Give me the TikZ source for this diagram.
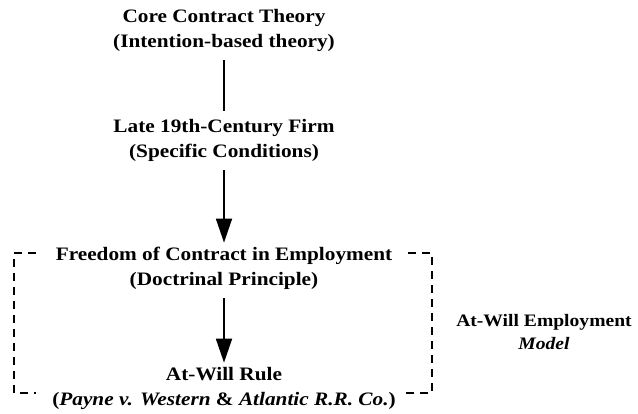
\documentclass[tikz,border=0pt]{standalone}
\usepackage{fontspec}
\setmainfont{Liberation Serif}[FakeStretch=1.12]
\usetikzlibrary{arrows.meta}
\begin{document}
\begin{tikzpicture}[x=1pt,y=-1pt,
  lbl/.style={font=\fontsize{19}{25}\selectfont\bfseries, align=center, inner sep=0pt},
  conn/.style={line width=1.8pt},
  arr/.style={conn,-{Triangle[length=24pt,width=16pt]}},
  brk/.style={line width=1.8pt, dash pattern=on 8pt off 6pt}]
\useasboundingbox (0,0) rectangle (638,414);
\node[lbl] (core) at (224,30) {Core Contract Theory\\(Intention-based theory)};
\node[lbl] (firm) at (224,140) {Late 19th-Century Firm\\(Specific Conditions)};
\node[lbl] (free) at (224,268) {Freedom of Contract in Employment\\(Doctrinal Principle)};
\node[lbl] (rule) at (224,388) {At-Will Rule\\(\textit{Payne v. Western} \& \textit{Atlantic R.R. Co.})};
\node[lbl, font=\fontsize{17.5}{23}\selectfont\bfseries] (model) at (544,332) {At-Will Employment\\\textit{Model}};
\draw[conn] ([yshift=-9pt]core.south) -- ([yshift=8pt]firm.north);
\draw[arr] ([yshift=-9pt]firm.south) -- ([yshift=4pt]free.north);
\draw[arr] ([yshift=-9pt]free.south) -- ([yshift=4pt]rule.north);
\coordinate (tl) at (14,253);
\coordinate (bl) at (14,393);
\coordinate (tr) at (432,253);
\coordinate (br) at (432,393);
\draw[brk] (36,253) -- (tl) -- (bl) -- (36,393);
\draw[brk] (408,253) -- (tr) -- (br) -- (405,393);
\end{tikzpicture}
\end{document}
